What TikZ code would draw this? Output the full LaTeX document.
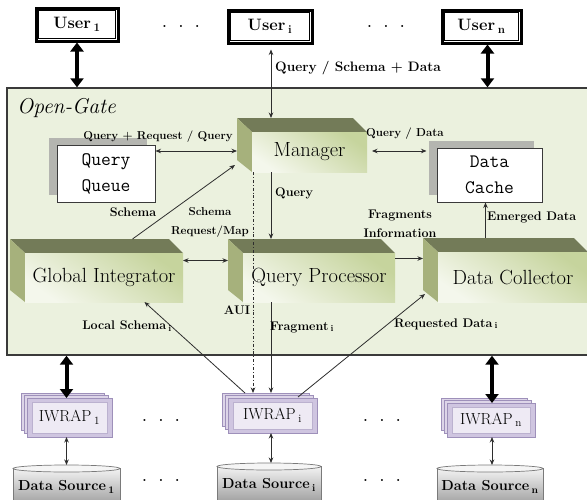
\documentclass[tikz,border=0pt]{standalone}
\usepackage{fontspec}
\usetikzlibrary{arrows.meta,calc,shadows}
\definecolor{ogfill}{HTML}{EBF1DE}
\definecolor{ogline}{HTML}{3A3A3A}
\definecolor{cubetopc}{HTML}{737B58}
\definecolor{cubeleftc}{HTML}{A6B17C}
\definecolor{frontg}{HTML}{C6D49D}
\definecolor{frontw}{HTML}{F4F7EC}
\definecolor{arrc}{HTML}{2E2E2E}
\definecolor{shadowc}{HTML}{B4B5B0}
\definecolor{iwbackf}{HTML}{DDD5E8}
\definecolor{iwline}{HTML}{9E90BA}
\definecolor{iwfrontf}{HTML}{CFC5E0}
\definecolor{iwfacef}{HTML}{EEEAF4}
\definecolor{dsline}{HTML}{7A7A7A}
\tikzset{
  ogbox/.style={draw=ogline, fill=ogfill, line width=1.4pt, inner sep=0},
  cubebox/.style={inner sep=0, outer sep=0},
  cubefront/.style={top color=frontg, bottom color=frontw, shading angle=-35},
  cubetext/.style={font=\fontsize{20.5}{24}\selectfont, inner sep=0},
  lbl/.style={font=\bfseries\fontsize{12.5}{19}\selectfont, inner sep=0},
  lblsmall/.style={font=\bfseries\fontsize{11.5}{19}\selectfont, inner sep=0},
  ogtext/.style={font=\itshape\fontsize{21.5}{24}\selectfont, inner sep=0},
  dotstext/.style={font=\bfseries\fontsize{14}{16}\selectfont, inner sep=0},
  tip/.tip={Stealth[length=5.5pt,width=4.5pt]},
  bigtip/.tip={Triangle[length=9pt,width=13pt]},
  arr/.style={draw=arrc, line width=0.8pt, -tip},
  darr/.style={draw=arrc, line width=0.8pt, tip-tip},
  bigarr/.style={draw=black, line width=4pt, bigtip-bigtip},
  userbox/.style={draw=black, line width=3pt, fill=white, inner sep=0, font=\bfseries\fontsize{16.5}{18}\selectfont},
  whitebox/.style={draw=ogline, line width=1pt, fill=white, inner sep=0, align=center,
     font=\ttfamily\fontsize{19}{26}\selectfont,
     general shadow={fill=shadowc, shadow xshift=-8pt, shadow yshift=7pt}},
  iwback/.style={draw=iwline, fill=iwbackf, line width=0.8pt},
  iwfront/.style={draw=iwline, fill=iwfrontf, line width=0.8pt},
  iwface/.style={draw=iwline!70, fill=iwfacef, line width=0.6pt},
  iwtext/.style={font=\fontsize{16}{18}\selectfont, inner sep=0},
  dstext/.style={font=\bfseries\fontsize{14.5}{16}\selectfont, inner sep=0},
}
% 3D box: name, x1, y1, x2, y2, text (full extent)
\newcommand\threed[6]{%
  \node[cubebox, minimum width={(#4)-(#2)}, minimum height={(#5)-(#3)}] (#1) at ({((#2)+(#4))/2},{((#3)+(#5))/2}) {};
  \fill[cubetopc] (#1.north west) -- ([xshift=-14pt]#1.north east) -- ([yshift=-14pt]#1.north east) -- ([shift={(15pt,-14pt)}]#1.north west) -- cycle;
  \fill[cubeleftc] (#1.north west) -- ([shift={(15pt,-14pt)}]#1.north west) -- ([xshift=15pt]#1.south west) -- ([yshift=12pt]#1.south west) -- cycle;
  \shade[cubefront] ([shift={(15pt,-14pt)}]#1.north west) rectangle (#1.south east);
  \node[cubetext] (#1-t) at ($([shift={(15pt,-14pt)}]#1.north west)!0.5!(#1.south east)$) {#6};
}
% IWRAP stack: name, x1, y1, x2, y2, text
\newcommand\iwrap[6]{%
  \node[inner sep=0, outer sep=0, minimum width={(#4)-(#2)}, minimum height={(#5)-(#3)}] (#1) at ({((#2)+(#4))/2},{((#3)+(#5))/2}) {};
  \draw[iwback] (#1.north west) rectangle ([shift={(-8pt,7pt)}]#1.south east);
  \draw[iwback] ([shift={(3pt,-2.5pt)}]#1.north west) rectangle ([shift={(-4pt,3.5pt)}]#1.south east);
  \draw[iwfront] ([shift={(6pt,-5pt)}]#1.north west) rectangle (#1.south east);
  \draw[iwface] ([shift={(11pt,-9pt)}]#1.north west) rectangle ([shift={(-5pt,4pt)}]#1.south east);
  \node[iwtext] (#1-t) at ($([shift={(6pt,-5pt)}]#1.north west)!0.5!(#1.south east)$) {#6};
}
% data source cylinder: name, x1, x2, ytop, text
\newcommand\dsrc[5]{%
  \node[inner sep=0, outer sep=0, minimum width={(#3)-(#2)}, minimum height=42] (#1) at ({((#2)+(#3))/2},{(#4)+21}) {};
  \shade[top color=white!95!black, bottom color=black!40, draw=dsline, line width=0.7pt] ([yshift=-3.5pt]#1.north west) rectangle (#1.south east);
  \filldraw[fill=white!96!black, draw=dsline, line width=0.7pt] ([yshift=-3.5pt]#1.north) ellipse [x radius={((#3)-(#2))/2*1pt}, y radius=3.5pt];
  \node[dstext] (#1-t) at ([yshift=-22pt]#1.north) {#5};
}
\begin{document}
\begin{tikzpicture}[x=1pt,y=-1pt]
\useasboundingbox (0,0) rectangle (587,499);
\fill[white] (0,0) rectangle (587,499);

% Open-Gate area
\node[ogbox, minimum width=583, minimum height=267] (og) at (298.5,221.5) {};
\node[ogtext, anchor=west] (l-og) at (17,108) {Open-Gate};

% users
\node[userbox, minimum width=82, minimum height=33] (u1) at (77,24.5) {User\,\textsubscript{1}};
\node[userbox, minimum width=84, minimum height=33] (ui) at (270,26.5) {User\,\textsubscript{i}};
\node[userbox, minimum width=79, minimum height=33] (un) at (481.5,26.5) {User\,\textsubscript{n}};
\foreach \u in {u1,ui,un}{
  \draw[line width=0.8pt] ([shift={(4pt,-4pt)}]\u.north west) rectangle ([shift={(-4pt,4pt)}]\u.south east);
}
\node[dotstext] (d-u1) at (181,26) {.\hspace{12pt}.\hspace{12pt}.};
\node[dotstext] (d-u2) at (386,26) {.\hspace{12pt}.\hspace{12pt}.};

% white boxes
\node[whitebox, minimum width=98, minimum height=57] (qq) at (106,173.5) {Query\\Queue};
\node[whitebox, minimum width=105, minimum height=54] (dcache) at (489.5,175) {Data\\Cache};

% 3D boxes
\threed{mgr}{237}{118}{367}{172}{Manager}
\threed{gi}{10}{239}{183}{302}{Global Integrator}
\threed{qp}{228}{239}{395}{302}{Query Processor}
\threed{dc}{423}{238}{588}{302}{Data Collector}

% IWRAPs
\iwrap{iw1}{21}{393}{112}{437}{IWRAP\,\textsubscript{1}}
\iwrap{iwi}{222}{393}{317}{433}{IWRAP\,\textsubscript{i}}
\iwrap{iwn}{441}{398}{535}{437}{IWRAP\,\textsubscript{n}}
\node[dotstext] (d-i1) at (161,420) {.\hspace{12pt}.\hspace{12pt}.};
\node[dotstext] (d-i2) at (382,420) {.\hspace{12pt}.\hspace{12pt}.};

% data sources
\dsrc{ds1}{13}{120}{465}{Data Source\,\textsubscript{1}}
\dsrc{dsi}{217}{321}{463}{Data Source\,\textsubscript{i}}
\dsrc{dsn}{437}{543}{465}{Data Source\,\textsubscript{n}}
\node[dotstext] (d-s1) at (161,480) {.\hspace{12pt}.\hspace{12pt}.};
\node[dotstext] (d-s2) at (382,480) {.\hspace{12pt}.\hspace{12pt}.};

% thick arrows
\draw[bigarr] (u1.south) -- (u1.south |- og.north);
\draw[bigarr] ([xshift=6pt]un.south) -- ([xshift=6pt]un.south |- og.north);
\draw[bigarr] (iw1.north |- og.south) -- ([yshift=-5pt]iw1.north);
\draw[bigarr] ([xshift=4pt]iwn.north |- og.south) -- ([shift={(4pt,-5pt)}]iwn.north);

% thin arrows
\draw[darr] ([shift={(1pt,-5pt)}]ui.south) -- ([xshift=1pt]ui.south |- mgr.north);
\path ([yshift=-6pt]mgr.west) coordinate (m1) ([yshift=-6pt]mgr.east) coordinate (m2);
\draw[darr] (qq.east |- m1) -- (m1);
\draw[darr] ([xshift=5pt]m2) -- ([xshift=-10pt]dcache.west |- m2);
\draw[arr] ([xshift=36pt]gi.north) -- ([shift={(-2pt,-20pt)}]mgr.west);
\path ([yshift=10pt]gi.east) coordinate (g1) ([yshift=12pt]qp.east) coordinate (q1);
\draw[darr] (g1) -- (qp.west |- g1);
\draw[arr] ([xshift=1pt]mgr.south -| ui.south) -- ([xshift=1pt]qp.north -| ui.south);
\draw[arr] (q1) -- (dc.west |- q1);
\draw[arr] ([xshift=-20pt]dc.north) -- ([xshift=-20pt]dc.north |- dcache.south);
\draw[arr, dash dot] ([xshift=16pt]mgr.south west) -- ([xshift=16pt]mgr.south west |- iwi.north);
\draw[arr] ([xshift=1pt]qp.south -| ui.south) -- ([xshift=1pt]iwi.north -| ui.south);
\draw[arr] ([xshift=23pt]iwi.north west) -- ([xshift=48pt]gi.south);
\draw[arr] ([shift={(-19pt,-4pt)}]iwi.north east) -- ([shift={(2pt,8pt)}]dc.south west);
\draw[darr] (iw1.south) -- (iw1.south |- ds1.north);
\draw[darr] ([xshift=1.5pt]iwi.south) -- ([xshift=1.5pt]iwi.south |- dsi.north);
\draw[darr] ([xshift=4pt]iwn.south) -- ([xshift=4pt]iwn.south |- dsn.north);

% labels
\node[lbl, anchor=west, font=\bfseries\fontsize{13.7}{19}\selectfont] (l-qsd) at (275,68) {Query / Schema + Data};
\node[lblsmall] (l-qrq) at (158,137) {Query + Request / Query};
\node[lblsmall] (l-qd) at (405,134) {Query / Data};
\node[lbl] (l-sch) at (133,212) {Schema};
\node[lblsmall, align=center] (l-srm) at (210,222) {Schema\\Request/Map};
\node[lbl, anchor=west] (l-q) at (275,193) {Query};
\node[lbl, align=center] (l-fi) at (400,224) {Fragments\\Information};
\node[lbl, anchor=west] (l-ed) at (487,217) {Emerged Data};
\node[lbl] (l-aui) at (237,310) {AUI};
\node[lbl] (l-ls) at (127,326) {Local Schema\,\textsubscript{i}};
\node[lbl, anchor=west] (l-fr) at (270,327) {Fragment\,\textsubscript{i}};
\node[lbl] (l-rd) at (446,324) {Requested Data\,\textsubscript{i}};
\end{tikzpicture}
\end{document}
